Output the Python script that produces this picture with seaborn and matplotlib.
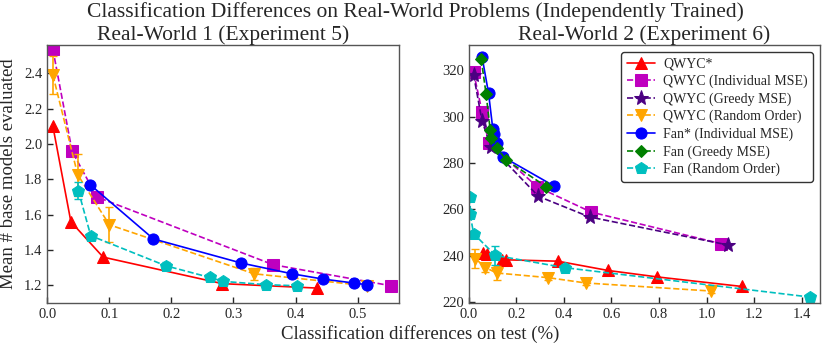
import numpy as np
import pandas as pd
import matplotlib
matplotlib.use("Agg")
import matplotlib.pyplot as plt
import seaborn as sns

# STYLE SETTINGS
sns.set_style("ticks")
plt.rcParams['font.family'] = ['Liberation Serif', 'DejaVu Serif']

# DATA - Real-World 1 (Experiment 5)
rw1_qwyc_x = [0.009, 0.038, 0.090, 0.282, 0.434]
rw1_qwyc_y = [2.10, 1.56, 1.36, 1.21, 1.185]

rw1_qwyc_ind_x = [0.009, 0.040, 0.080, 0.364, 0.554]
rw1_qwyc_ind_y = [2.535, 1.958, 1.70, 1.317, 1.198]

rw1_qwyc_rand_x = [0.009, 0.049, 0.100, 0.333, 0.515]
rw1_qwyc_rand_y = [2.39, 1.826, 1.543, 1.266, 1.198]
rw1_qwyc_rand_err = [0.11, 0.12, 0.10, 0.035, 0.01]

rw1_fan_ind_x = [0.069, 0.171, 0.312, 0.394, 0.444, 0.495, 0.515]
rw1_fan_ind_y = [1.77, 1.463, 1.327, 1.266, 1.236, 1.213, 1.204]

rw1_fan_rand_x = [0.050, 0.070, 0.191, 0.262, 0.283, 0.353, 0.403]
rw1_fan_rand_y = [1.736, 1.481, 1.311, 1.245, 1.223, 1.204, 1.198]
rw1_fan_rand_err = [0.05, 0.01, 0.02, 0.01, 0.01, 0.01, 0.01]

# DATA - Real-World 2 (Experiment 6)
rw2_qwyc_x = [0.059, 0.076, 0.141, 0.157, 0.375, 0.585, 0.793, 1.147]
rw2_qwyc_y = [241.1, 240.5, 238.2, 238.2, 237.6, 233.6, 230.8, 226.7]

rw2_qwyc_ind_x = [0.020, 0.056, 0.084, 0.288, 0.515, 1.06]
rw2_qwyc_ind_y = [319.3, 302.0, 288.6, 269.7, 258.8, 245.2]

rw2_qwyc_greedy_x = [0.020, 0.056, 0.094, 0.293, 0.508, 1.09]
rw2_qwyc_greedy_y = [318.2, 298.0, 286.9, 265.6, 256.7, 244.6]

rw2_qwyc_rand_x = [0.028, 0.070, 0.118, 0.333, 0.491, 1.02]
rw2_qwyc_rand_y = [238.7, 234.8, 232.5, 230.5, 228.2, 224.7]
rw2_qwyc_rand_err = [4.0, 2.0, 3.0, 1.0, 0.8, 1.0]

rw2_fan_ind_x = [0.056, 0.083, 0.101, 0.104, 0.118, 0.143, 0.358]
rw2_fan_ind_y = [325.7, 310.2, 294.7, 292.5, 288.5, 282.7, 270.1]

rw2_fan_greedy_x = [0.052, 0.073, 0.090, 0.094, 0.118, 0.157, 0.326]
rw2_fan_greedy_y = [324.9, 309.7, 294.3, 291.0, 286.7, 281.3, 269.8]

rw2_fan_rand_x = [0.006, 0.006, 0.020, 0.112, 0.404, 1.435]
rw2_fan_rand_y = [265.3, 257.8, 249.5, 240.1, 234.8, 222.1]
rw2_fan_rand_err = [1.0, 1.0, 1.0, 4.0, 1.5, 1.5]

# series styles: label -> (color, marker, linestyle)
styles = {
    'QWYC*': ('red', '^', '-'),
    'QWYC (Individual MSE)': ('m', 's', '--'),
    'QWYC (Greedy MSE)': ('indigo', '*', '--'),
    'QWYC (Random Order)': ('orange', 'v', '--'),
    'Fan* (Individual MSE)': ('blue', 'o', '-'),
    'Fan (Greedy MSE)': ('green', 'D', '--'),
    'Fan (Random Order)': ('c', 'p', '--'),
}
msizes = {'^': 8, 's': 8, '*': 11, 'v': 8, 'o': 8, 'D': 6.5, 'p': 9}


def draw(ax, label, x, y, err=None):
    color, marker, ls = styles[label]
    df = pd.DataFrame({'x': x, 'y': y})
    sns.lineplot(data=df, x='x', y='y', ax=ax, sort=False, color=color,
                 marker=marker, markersize=msizes[marker], linestyle=ls,
                 linewidth=1.2, markeredgecolor=color, label=label,
                 errorbar=None, estimator=None)
    if err is not None:
        ax.errorbar(x, y, yerr=err, fmt='none', ecolor=color,
                    elinewidth=1.2, capsize=3)


fig, (ax1, ax2) = plt.subplots(1, 2, figsize=(8.3, 3.46), dpi=100)
fig.subplots_adjust(left=0.057, right=0.988, bottom=0.124, top=0.870,
                    wspace=0.2)

# Real-World 1
draw(ax1, 'QWYC*', rw1_qwyc_x, rw1_qwyc_y)
draw(ax1, 'QWYC (Individual MSE)', rw1_qwyc_ind_x, rw1_qwyc_ind_y)
draw(ax1, 'QWYC (Random Order)', rw1_qwyc_rand_x, rw1_qwyc_rand_y, rw1_qwyc_rand_err)
draw(ax1, 'Fan* (Individual MSE)', rw1_fan_ind_x, rw1_fan_ind_y)
draw(ax1, 'Fan (Random Order)', rw1_fan_rand_x, rw1_fan_rand_y, rw1_fan_rand_err)
ax1.set_xlim(0, 0.566)
ax1.set_ylim(1.10, 2.56)
ax1.set_xticks([0.0, 0.1, 0.2, 0.3, 0.4, 0.5])
ax1.set_yticks([1.2, 1.4, 1.6, 1.8, 2.0, 2.2, 2.4])
ax1.get_legend().remove()
ax1.set_title("Real-World 1 (Experiment 5)", fontsize=15.5, pad=1)
ax1.set_xlabel("")
ax1.set_ylabel("Mean # base models evaluated", fontsize=13.5, labelpad=5)

# Real-World 2
draw(ax2, 'QWYC*', rw2_qwyc_x, rw2_qwyc_y)
draw(ax2, 'QWYC (Individual MSE)', rw2_qwyc_ind_x, rw2_qwyc_ind_y)
draw(ax2, 'QWYC (Greedy MSE)', rw2_qwyc_greedy_x, rw2_qwyc_greedy_y)
draw(ax2, 'QWYC (Random Order)', rw2_qwyc_rand_x, rw2_qwyc_rand_y, rw2_qwyc_rand_err)
draw(ax2, 'Fan* (Individual MSE)', rw2_fan_ind_x, rw2_fan_ind_y)
draw(ax2, 'Fan (Greedy MSE)', rw2_fan_greedy_x, rw2_fan_greedy_y)
draw(ax2, 'Fan (Random Order)', rw2_fan_rand_x, rw2_fan_rand_y, rw2_fan_rand_err)
ax2.set_xlim(0, 1.477)
ax2.set_ylim(219.5, 331)
ax2.set_xticks([0.0, 0.2, 0.4, 0.6, 0.8, 1.0, 1.2, 1.4])
ax2.set_yticks([220, 240, 260, 280, 300, 320])
ax2.set_title("Real-World 2 (Experiment 6)", fontsize=15.5, pad=1)
ax2.set_xlabel("")
ax2.set_ylabel("")
leg = ax2.legend(loc='upper right', fontsize=10, frameon=True,
                 edgecolor='black', fancybox=True, handlelength=2.0,
                 handletextpad=0.6, borderpad=0.4, labelspacing=0.3)
leg.get_frame().set_linewidth(1.0)

for ax in (ax1, ax2):
    ax.tick_params(direction='in', labelsize=10.5, length=4, width=1)
    for s in ax.spines.values():
        s.set_visible(True)
        s.set_color('#555555')
        s.set_linewidth(1.0)

fig.suptitle("Classification Differences on Real-World Problems (Independently Trained)",
             fontsize=15.5, y=0.995)
fig.supxlabel("Classification differences on test (%)", fontsize=13.5,
              x=0.506, y=0.01)

fig.savefig("out.png", dpi=100)
